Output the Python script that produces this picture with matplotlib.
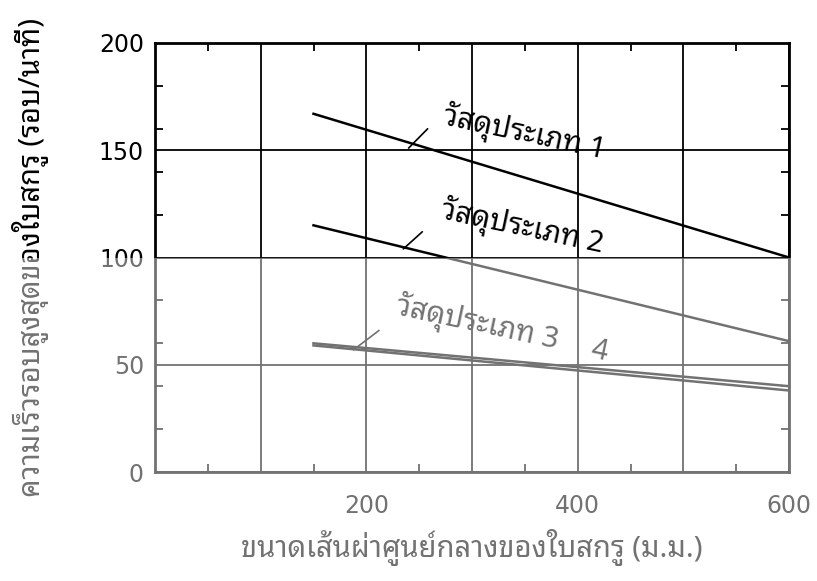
import matplotlib
matplotlib.use("Agg")
import matplotlib.pyplot as plt
from matplotlib import font_manager
from matplotlib.ft2font import FT2Font
from matplotlib.ticker import FixedLocator
from matplotlib.patches import Rectangle

# ---------------- data ----------------
x_ticks = [0, 100, 200, 300, 400, 500, 600]
x_tick_labels = ["", "", "200", "", "400", "", "600"]
y_ticks = [0, 50, 100, 150, 200]
y_tick_labels = ["0", "50", "100", "150", "200"]
x_minor = [50, 150, 250, 350, 450, 550]
y_minor = [20, 40, 60, 80, 120, 140, 160, 180]

diameter = [150, 600]
material_1 = [167, 100]
material_2 = [115, 61]
material_3 = [59, 38]
material_4 = [60, 40]

labels = ["วัสดุประเภท 1", "วัสดุประเภท 2", "วัสดุประเภท 3", "4"]
label_x = [350, 348, 305, 420]
label_y = [158, 114, 69, 56]
leader_from = [(240, 151), (235, 104), (188, 57)]
leader_to = [(258, 160), (253, 112), (212, 66)]

x_label = "ขนาดเส้นผ่าศูนย์กลางของใบสกรู (ม.ม.)"
y_label = "ความเร็วรอบสูงสุดของใบสกรู (รอบ/นาที)"

# ---------------- font with Thai glyphs ----------------
thai_fonts = []
for f in font_manager.fontManager.ttflist:
    try:
        cm = FT2Font(f.fname).get_charmap()
    except Exception:
        continue
    if 0x0E27 in cm and 0x0E2A in cm and 0x0E1B in cm:
        if f.name not in thai_fonts:
            thai_fonts.append(f.name)
preferred = [n for n in ("Noto Sans Thai Looped", "Noto Sans Thai") if n in thai_fonts]
thai_family = preferred + [n for n in thai_fonts if n not in preferred] + ["DejaVu Sans"]
thai_family = thai_family[:1] + ["DejaVu Sans"]

plt.rcParams["font.family"] = ["DejaVu Sans"]

fig = plt.figure(figsize=(8.17, 5.81), dpi=100)
ax = fig.add_axes([155 / 817, 1 - 472 / 581, 634 / 817, 429 / 581])

ax.set_xlim(0, 600)
ax.set_ylim(0, 200)

ax.set_xticks(x_ticks)
ax.set_xticklabels(x_tick_labels)
ax.set_yticks(y_ticks)
ax.set_yticklabels(y_tick_labels)
ax.xaxis.set_minor_locator(FixedLocator(x_minor))
ax.yaxis.set_minor_locator(FixedLocator(y_minor))
ax.tick_params(which="major", length=0, labelsize=17, colors="black")
ax.tick_params(axis="x", which="major", pad=16)
ax.tick_params(axis="y", which="major", pad=8)
ax.tick_params(which="minor", direction="in", length=6, width=1.3,
               top=True, right=True, bottom=True, left=True)
ax.grid(True, which="major", color="black", linewidth=1.3)
for s in ax.spines.values():
    s.set_linewidth(2.0)
    s.set_color("black")

for ys in (material_1, material_2, material_3, material_4):
    ax.plot(diameter, ys, color="black", linewidth=1.8, zorder=3)

for t, xx, yy in zip(labels, label_x, label_y):
    ax.text(xx, yy, t, family=thai_family, fontsize=21, rotation=-12,
            rotation_mode="anchor", ha="center", va="center", zorder=4)

for p0, p1 in zip(leader_from, leader_to):
    ax.annotate("", xy=p0, xytext=p1,
                arrowprops=dict(arrowstyle="-", color="black", lw=1.2,
                                shrinkA=0, shrinkB=0))

ax.set_xlabel(x_label, family=thai_family, fontsize=21, labelpad=8)
ax.set_ylabel(y_label, family=thai_family, fontsize=21, labelpad=36)

# lighter (faded) lower half as in the scanned reference
fade_top = 1 - 257.5 / 581
fig.patches.append(Rectangle((0, 0), 1, fade_top, transform=fig.transFigure,
                             facecolor="white", alpha=0.45, edgecolor="none",
                             zorder=10))

fig.savefig("out.png", dpi=100, facecolor="white")
